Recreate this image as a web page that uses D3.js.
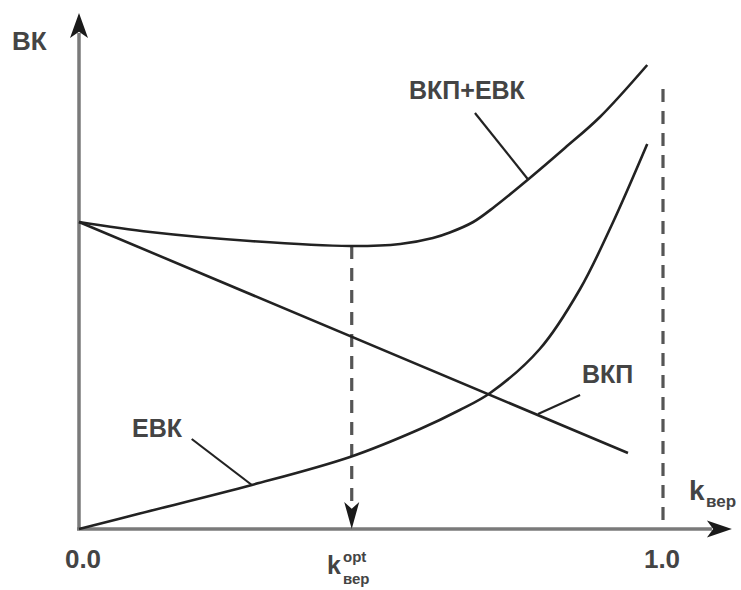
<!DOCTYPE html>
<html><head><meta charset="utf-8">
<script src="https://cdn.jsdelivr.net/npm/d3@7"></script>
<style>body{margin:0;background:#fff}svg{display:block}text{font-family:"Liberation Sans",Arial,sans-serif;fill:#444;font-weight:bold}</style>
</head><body><svg id="c" width="741" height="590"></svg>
<script>
// Data (k_вер on x, ВК on y in arbitrary units)
const evkK = [0, 0.104, 0.296, 0.464, 0.584, 0.652, 0.704, 0.789, 0.858, 0.913, 0.973];
const evkV = [0, 0.31, 0.88, 1.44, 2.00, 2.38, 2.72, 3.60, 4.80, 6.10, 7.70];
const sumK = [0, 0.122, 0.293, 0.464, 0.550, 0.606, 0.635, 0.675, 0.712, 0.772, 0.832, 0.892, 0.973];
const sumV = [6.14, 5.94, 5.76, 5.66, 5.70, 5.82, 5.93, 6.14, 6.45, 7.02, 7.62, 8.24, 9.28];
const vkpK = [0, 0.940];
const vkpV = [6.14, 1.52];
const kOpt = 0.467, kOptV = 5.66;
const kOneTop = 8.80;
const tickLabels = ["0.0", "1.0"];

const svg = d3.select("#c");
const x = d3.scaleLinear().domain([0, 1]).range([79, 663]);
const y = d3.scaleLinear().domain([0, 10]).range([529, 29]);
const xMax = 1.118, yMax = 10.32;
const line = d3.line().x(d => x(d[0])).y(d => y(d[1]));
const curve = d3.line().x(d => x(d[0])).y(d => y(d[1])).curve(d3.curveCatmullRom.alpha(0.5));

// axes
svg.append("line").attr("x1", x(0)).attr("y1", y(0)).attr("x2", x(0)).attr("y2", y(yMax) + 20)
  .attr("stroke", "#7a7a7a").attr("stroke-width", 3.5);
svg.append("line").attr("x1", x(0) - 2).attr("y1", y(0)).attr("x2", x(xMax) - 20).attr("y2", y(0))
  .attr("stroke", "#7a7a7a").attr("stroke-width", 3.5);
function arrow(tx, ty, dir, len, w) {
  let p;
  if (dir === "up") p = [[tx, ty], [tx + w / 2, ty + len], [tx, ty + len * 0.75], [tx - w / 2, ty + len]];
  if (dir === "down") p = [[tx, ty], [tx + w / 2, ty - len], [tx, ty - len * 0.75], [tx - w / 2, ty - len]];
  if (dir === "right") p = [[tx, ty], [tx - len, ty - w / 2], [tx - len * 0.75, ty], [tx - len, ty + w / 2]];
  svg.append("path").attr("d", "M" + p.join("L") + "Z").attr("fill", "#1a1a1a");
}
arrow(x(0), y(yMax), "up", 25, 18);
arrow(x(xMax), y(0), "right", 25, 17);

// dashed verticals
svg.append("line").attr("x1", x(kOpt)).attr("x2", x(kOpt)).attr("y1", y(kOptV)).attr("y2", y(0) - 22)
  .attr("stroke", "#555").attr("stroke-width", 3.2).attr("stroke-dasharray", "13,9");
arrow(x(kOpt), y(0), "down", 27, 15);
svg.append("line").attr("x1", x(1)).attr("x2", x(1)).attr("y1", y(kOneTop)).attr("y2", y(0))
  .attr("stroke", "#555").attr("stroke-width", 3.2).attr("stroke-dasharray", "13,9");

// curves
const zip = (a, b) => a.map((v, i) => [v, b[i]]);
svg.append("path").attr("d", line(zip(vkpK, vkpV))).attr("fill", "none").attr("stroke", "#222").attr("stroke-width", 2.6);
svg.append("path").attr("d", curve(zip(evkK, evkV))).attr("fill", "none").attr("stroke", "#222").attr("stroke-width", 2.6);
svg.append("path").attr("d", curve(zip(sumK, sumV))).attr("fill", "none").attr("stroke", "#222").attr("stroke-width", 2.6);

// leaders (data coords)
const leaders = [
  [[0.678, 8.32], [0.769, 6.99]],
  [[0.193, 1.80], [0.296, 0.88]],
  [[0.858, 2.68], [0.786, 2.30]]
];
leaders.forEach(l => svg.append("path").attr("d", line(l)).attr("stroke", "#222").attr("stroke-width", 2.2).attr("fill", "none"));

// labels
const lab = (t, px, py, size) => svg.append("text").attr("x", px).attr("y", py).attr("font-size", size).text(t);
lab("ВК", 12, 50, 26);
lab("ВКП+ЕВК", 409, 99, 25);
lab("ЕВК", 132, 437, 25);
lab("ВКП", 582, 383, 25);
svg.append("text").attr("x", x(0) + 4).attr("y", 568).attr("text-anchor", "middle").attr("font-size", 26).text(tickLabels[0]);
svg.append("text").attr("x", x(1) - 1).attr("y", 568).attr("text-anchor", "middle").attr("font-size", 26).text(tickLabels[1]);
// k opt
svg.append("text").attr("x", 327).attr("y", 574).attr("font-size", 25).attr("font-weight", "normal").text("k");
svg.append("text").attr("x", 343).attr("y", 562).attr("font-size", 15).text("opt");
svg.append("text").attr("x", 343).attr("y", 584).attr("font-size", 15).text("вер");
// k вер axis label
svg.append("text").attr("x", 689).attr("y", 500).attr("font-size", 28).attr("font-weight", "normal").text("k");
svg.append("text").attr("x", 706).attr("y", 507).attr("font-size", 17).text("вер");
</script></body></html>
